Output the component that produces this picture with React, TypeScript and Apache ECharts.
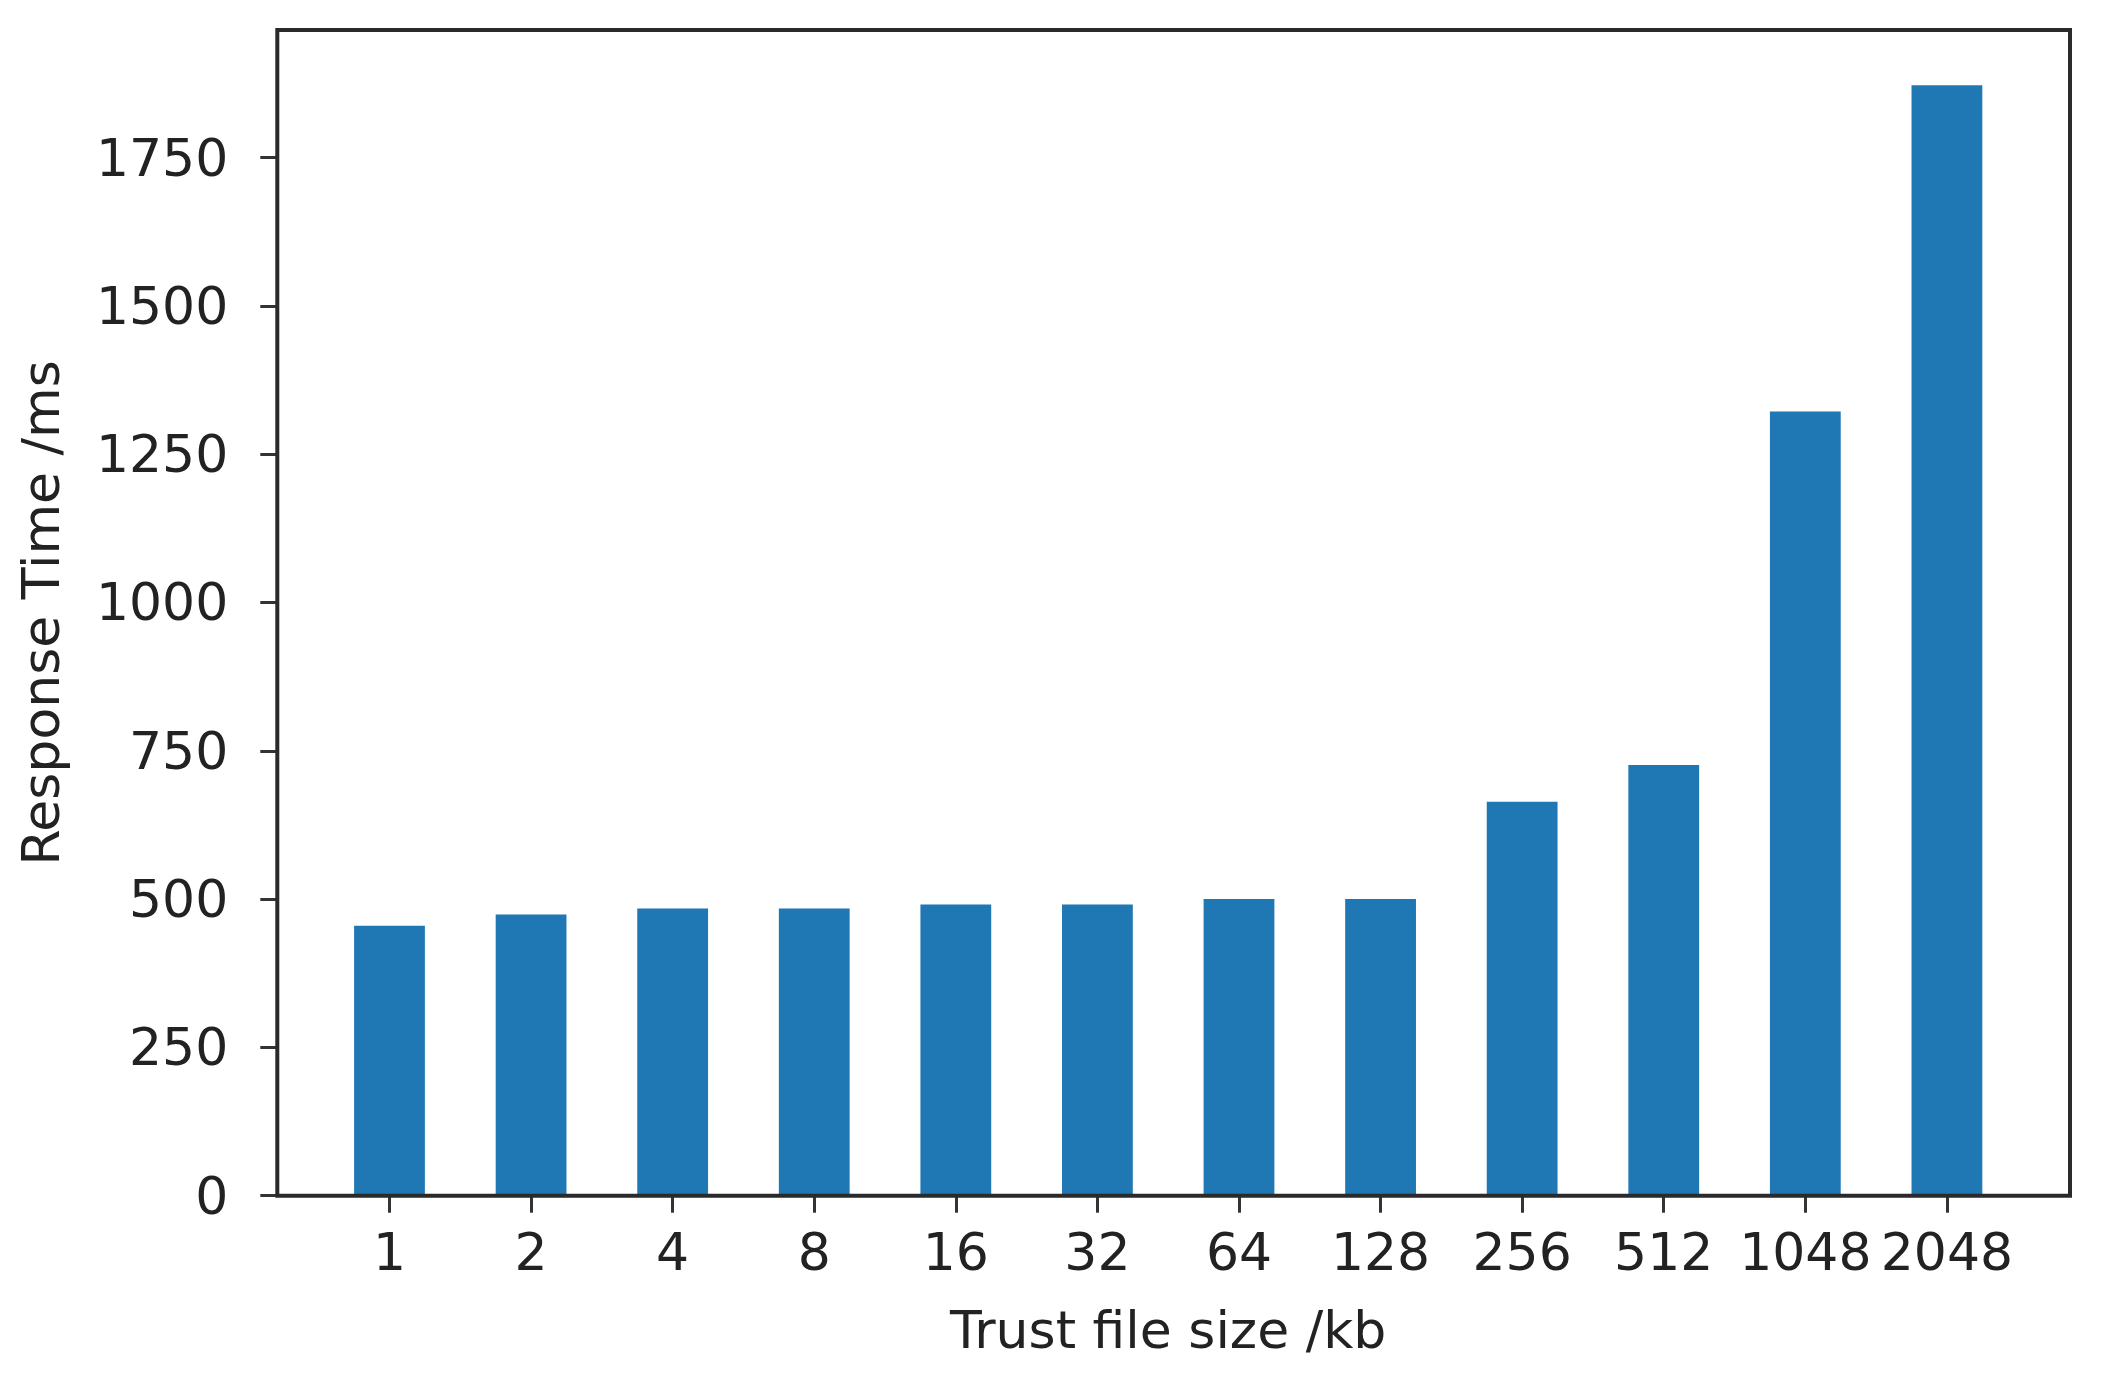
import React, { useEffect, useRef } from "react";
import * as echarts from "echarts";

const categories = ["1", "2", "4", "8", "16", "32", "64", "128", "256", "512", "1048", "2048"];
const responseTimes = [455, 474, 484, 484, 491, 491, 500, 500, 664, 726, 1322, 1872];
const yMax = 1965;
const yInterval = 250;
const xAxisName = "Trust file size /kb";
const yAxisName = "Response Time /ms";

const FONT = "DejaVu Sans";
const TEXT = "#222222";

export default function App() {
  const ref = useRef<HTMLDivElement>(null);
  useEffect(() => {
    if (!ref.current) return;
    const chart = echarts.init(ref.current, null, { renderer: "svg" });
    const frameL = 277.3, frameR = 2070, frameT = 30, frameB = 1195.7;
    const gridL = 318.7, gridW = 1699;
    chart.setOption({
      animation: false,
      backgroundColor: "#ffffff",
      grid: {
        left: gridL,
        top: frameT,
        width: gridW,
        height: frameB - frameT,
        containLabel: false,
      },
      xAxis: {
        type: "category",
        data: categories,
        boundaryGap: true,
        axisLine: { show: false },
        axisTick: { show: true, alignWithLabel: true, length: 17, lineStyle: { color: "#333", width: 3 } },
        axisLabel: { color: TEXT, fontFamily: FONT, fontSize: 52, margin: 30, interval: 0 },
        name: xAxisName,
        nameLocation: "middle",
        nameGap: 108,
        nameTextStyle: { color: TEXT, fontFamily: FONT, fontSize: 52 },
      },
      yAxis: {
        type: "value",
        min: 0,
        max: yMax,
        interval: yInterval,
        offset: gridL - frameL,
        axisLine: { show: false },
        splitLine: { show: false },
        axisTick: { show: true, length: 17, lineStyle: { color: "#333", width: 3 } },
        axisLabel: {
          color: TEXT,
          fontFamily: FONT,
          fontSize: 52,
          margin: 49,
          showMaxLabel: false,
          formatter: (v: number) => String(v),
        },
        name: yAxisName,
        nameLocation: "middle",
        nameRotate: 90,
        nameGap: 210,
        nameTextStyle: { color: TEXT, fontFamily: FONT, fontSize: 52 },
      },
      series: [
        {
          type: "bar",
          data: responseTimes,
          barWidth: "50%",
          itemStyle: { color: "#1f77b4" },
        },
      ],
      graphic: [
        {
          type: "rect",
          z: 100,
          shape: { x: frameL, y: frameT, width: frameR - frameL, height: frameB - frameT },
          style: { fill: "none", stroke: "#2a2a2a", lineWidth: 4 },
          silent: true,
        },
      ],
    });
    return () => chart.dispose();
  }, []);
  return (
    <div
      ref={ref}
      style={{ position: "fixed", left: 0, top: 0, width: 2103, height: 1373, background: "#fff" }}
    />
  );
}
